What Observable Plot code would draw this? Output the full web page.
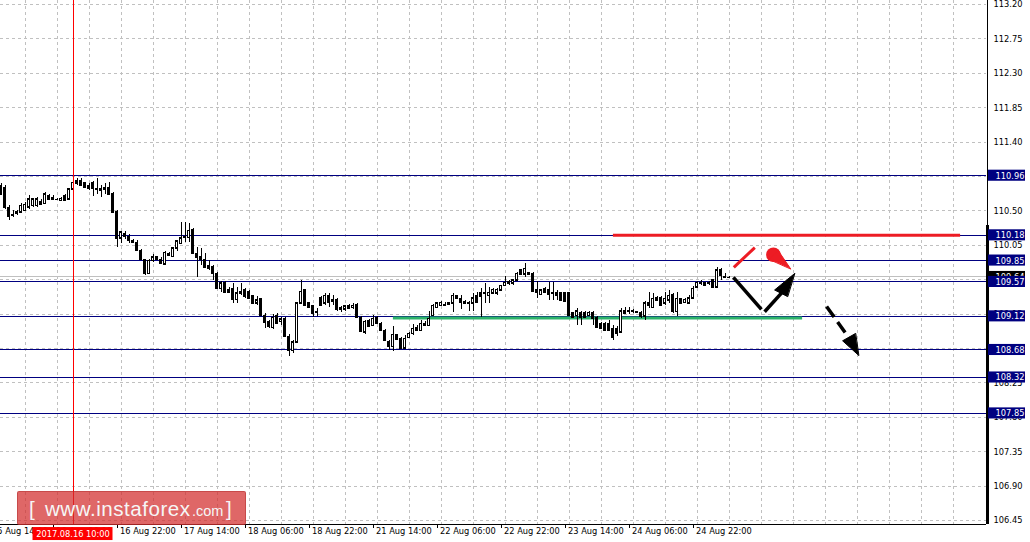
<!DOCTYPE html>
<html><head><meta charset="utf-8">
<script src="https://cdn.jsdelivr.net/npm/d3@7"></script>
<script src="https://cdn.jsdelivr.net/npm/@observablehq/plot@0.6"></script>
<style>
html,body{margin:0;padding:0;background:#fff;}
#wrap{position:relative;width:1030px;height:542px;overflow:hidden;}
#logo{position:absolute;left:17px;top:491px;width:227px;height:32px;background:rgba(211,45,45,0.72);border:1px solid rgba(170,40,40,0.45);border-radius:2px;}
.lg{position:absolute;color:#f6f6f6;font-family:"Liberation Sans",Arial,sans-serif;line-height:1;white-space:pre;}
</style></head><body>
<div id="wrap"><div id="chart"></div>
<div id="logo"></div>
<span class="lg" style="left:29px;top:498.5px;font-size:20.6px;">[</span>
<span class="lg" style="left:45px;top:498.5px;font-size:20.6px;letter-spacing:0.5px;">www.instaforex</span>
<span class="lg" style="left:192px;top:503.5px;font-size:14.5px;">.com</span>
<span class="lg" style="left:226px;top:498.5px;font-size:20.6px;">]</span>
</div>
<script>
// ---- H1 candles (bar 0 = leftmost visible bar) ----
const opens = [
110.82,110.80,110.54,110.45,110.46,110.48,110.50,110.55,110.57,110.57,
110.62,110.59,110.69,110.67,110.65,110.63,110.70,110.65,110.78,110.86,
110.89,110.86,110.83,110.86,110.79,110.78,110.80,110.80,110.72,110.48,
110.14,110.20,110.16,110.10,110.08,109.98,109.86,109.68,109.85,109.89,
109.86,109.80,109.94,109.90,110.01,110.07,110.16,110.15,110.25,109.94,
109.89,109.86,109.78,109.77,109.68,109.48,109.56,109.47,109.48,109.34,
109.44,109.46,109.44,109.38,109.29,109.35,109.13,109.04,108.97,109.13,
109.05,109.09,108.85,108.67,108.78,109.29,109.46,109.29,109.25,109.18,
109.36,109.29,109.38,109.33,109.34,109.23,109.21,109.25,109.23,109.27,
109.10,108.91,109.06,109.00,109.10,109.02,108.93,108.79,108.72,108.87,
108.83,108.70,108.84,108.89,108.97,108.93,109.02,109.00,109.13,109.23,
109.26,109.27,109.29,109.29,109.38,109.35,109.31,109.30,109.29,109.38,
109.42,109.42,109.39,109.42,109.42,109.46,109.52,109.57,109.55,109.59,
109.72,109.67,109.69,109.68,109.47,109.40,109.48,109.47,109.43,109.43,
109.42,109.42,109.42,109.16,109.13,109.17,109.16,109.13,109.16,109.10,
109.02,109.02,109.02,108.96,108.95,108.91,109.16,109.19,109.18,109.18,
109.16,109.12,109.29,109.23,109.33,109.36,109.29,109.33,109.40,109.18,
109.35,109.30,109.29,109.36,109.50,109.56,109.53,109.56,109.59,109.50,
109.72,109.64,109.63];
const highs = [
110.86,110.83,110.57,110.50,110.50,110.59,110.61,110.70,110.66,110.67,
110.65,110.74,110.71,110.70,110.66,110.67,110.71,110.79,110.88,110.93,
110.93,110.87,110.86,110.88,110.93,110.83,110.86,110.87,110.74,110.50,
110.23,110.23,110.19,110.12,110.11,109.99,109.87,109.86,109.93,109.90,
109.89,109.97,109.95,110.02,110.11,110.35,110.35,110.33,110.27,110.02,
110.01,109.94,109.85,109.78,109.69,109.57,109.57,109.50,109.55,109.50,
109.55,109.48,109.46,109.39,109.38,109.36,109.16,109.06,109.14,109.16,
109.10,109.10,108.88,108.80,109.30,109.59,109.47,109.30,109.26,109.22,
109.38,109.42,109.42,109.39,109.35,109.25,109.26,109.27,109.29,109.29,
109.12,109.06,109.08,109.13,109.12,109.04,108.95,108.80,108.99,108.88,
108.84,108.87,108.91,109.01,109.00,109.06,109.05,109.19,109.27,109.30,
109.31,109.30,109.30,109.42,109.39,109.39,109.33,109.31,109.42,109.43,
109.48,109.55,109.50,109.48,109.48,109.53,109.64,109.59,109.60,109.69,
109.73,109.81,109.70,109.69,109.57,109.47,109.50,109.56,109.56,109.46,
109.43,109.43,109.43,109.17,109.22,109.19,109.18,109.18,109.19,109.12,
109.04,109.04,109.06,109.00,108.99,109.22,109.23,109.23,109.21,109.19,
109.19,109.31,109.43,109.42,109.38,109.38,109.43,109.46,109.42,109.43,
109.36,109.35,109.39,109.51,109.57,109.59,109.56,109.57,109.60,109.76,
109.74,109.68,109.64];
const lows = [
110.70,110.52,110.37,110.41,110.44,110.46,110.49,110.52,110.55,110.55,
110.57,110.58,110.63,110.63,110.63,110.62,110.62,110.63,110.76,110.83,
110.82,110.79,110.76,110.69,110.72,110.67,110.72,110.71,110.46,110.02,
110.07,110.12,110.07,110.07,109.97,109.85,109.65,109.67,109.82,109.85,
109.80,109.78,109.90,109.89,109.97,110.06,110.08,110.08,109.93,109.63,
109.78,109.74,109.72,109.59,109.47,109.43,109.42,109.42,109.29,109.29,
109.39,109.36,109.35,109.27,109.26,109.12,108.96,108.96,108.95,109.01,
109.00,108.84,108.59,108.63,108.76,109.27,109.25,109.22,109.10,109.12,
109.25,109.26,109.23,109.26,109.19,109.17,109.19,109.21,109.21,109.09,
108.91,108.88,108.97,108.99,109.01,108.92,108.79,108.67,108.66,108.80,
108.69,108.69,108.83,108.87,108.92,108.92,108.99,108.99,109.12,109.22,
109.25,109.25,109.26,109.17,109.34,109.21,109.27,109.19,109.19,109.29,
109.10,109.29,109.29,109.40,109.39,109.44,109.51,109.53,109.53,109.57,
109.65,109.63,109.65,109.43,109.36,109.39,109.42,109.33,109.33,109.33,
109.31,109.30,109.12,109.09,109.00,109.00,109.09,109.12,109.00,108.96,
108.95,108.92,108.92,108.80,108.85,108.89,109.14,109.14,109.16,109.16,
109.09,109.06,109.22,109.23,109.31,109.25,109.26,109.29,109.16,109.12,
109.27,109.29,109.27,109.35,109.48,109.52,109.52,109.53,109.48,109.48,
109.59,109.61,109.61];
const closes = [
110.72,110.54,110.42,110.44,110.48,110.57,110.58,110.65,110.65,110.65,
110.58,110.72,110.65,110.65,110.65,110.66,110.63,110.78,110.87,110.89,
110.83,110.80,110.79,110.79,110.78,110.76,110.78,110.72,110.48,110.14,
110.22,110.16,110.11,110.08,109.98,109.86,109.68,109.85,109.89,109.86,
109.81,109.95,109.91,110.01,110.10,110.14,110.15,110.24,109.94,109.89,
109.86,109.76,109.74,109.68,109.48,109.55,109.43,109.43,109.34,109.42,
109.42,109.38,109.36,109.29,109.33,109.13,109.04,108.99,109.10,109.02,
109.08,108.85,108.67,108.78,109.29,109.44,109.26,109.23,109.16,109.17,
109.26,109.39,109.30,109.31,109.21,109.21,109.25,109.22,109.26,109.10,
108.92,109.05,108.99,109.09,109.02,108.93,108.80,108.72,108.88,108.82,
108.70,108.83,108.89,108.96,108.93,109.02,109.00,109.09,109.26,109.29,
109.30,109.26,109.27,109.39,109.35,109.30,109.29,109.29,109.36,109.30,
109.38,109.43,109.43,109.47,109.47,109.52,109.56,109.55,109.59,109.68,
109.67,109.74,109.67,109.44,109.43,109.46,109.43,109.40,109.42,109.39,
109.33,109.31,109.13,109.10,109.19,109.10,109.10,109.17,109.09,108.97,
108.96,108.93,108.93,108.84,108.89,109.19,109.19,109.18,109.19,109.17,
109.12,109.29,109.26,109.35,109.36,109.26,109.35,109.39,109.18,109.35,
109.29,109.34,109.36,109.48,109.56,109.55,109.55,109.55,109.50,109.72,
109.65,109.63,109.63];

// ---- price axis ----
const gridPrices = [106.45,106.90,107.35,107.80,108.25,108.70,109.15,109.60,110.05,110.50,110.95,111.40,111.85,112.30,112.75,113.20];
const gridLabels = gridPrices.map(p => p.toFixed(2));
const levelPrices = [110.96,110.18,109.85,109.57,109.12,108.68,108.32,107.85];
const levelLabels = ["110.96","110.18","109.85","109.57","109.12","108.68","108.32","107.85"];
const bidPrice = 109.635;
const bidLabel = "109.64";

// ---- time axis ----
const timeTickBars = [-3,13,29,45,61,77,93,109,125,141,157,173];
const timeTickLabels = ["15 Aug 14:00","16 Aug 06:00","16 Aug 22:00","17 Aug 14:00","18 Aug 06:00","18 Aug 22:00","21 Aug 14:00","22 Aug 06:00","22 Aug 22:00","23 Aug 14:00","24 Aug 06:00","24 Aug 22:00"];
const gridBars = [6,14,22,30,38,46,54,62,70,78,86,94,102,110,118,126,134,142,150,158,166,174,182,190,198,206,214,222,230,238];
const markerBar = 18;
const markerLabel = "2017.08.16 10:00";

// ---- drawn annotations (bar index, price) ----
const resistance = {from: 153.1, to: 239.9, price: 110.18};
const support = {from: 98.1, to: 200.4, price: 109.10};
const redStroke = [[183.2, 109.76], [188.45, 110.02]];
const blackStrokes = [
  [[183.1, 109.63], [190.1, 109.21]],
  [[190.9, 109.18], [195.9, 109.47]]
];
const dashedStroke = [[206.4, 109.25], [212.1, 108.83]];
const arrowHeads = [
  [[198.4, 109.68], [193.4, 109.465], [196.6, 109.38]],
  [[214.4, 108.61], [210.4, 108.80], [213.6, 108.895]]
];
const dropHead = {x: 193.1, y: 109.926};
const dropTail = [[192.1, 109.868], [194.25, 109.985], [197.4, 109.742]];

// ---- build ----
const candles = opens.map((o, i) => ({i, o, h: highs[i], l: lows[i], c: closes[i]}));
const xDomain = [-0.125, 246.375];
const yDomain = [106.3968, 113.2523];
const xR = xDomain[1];
const yB = yDomain[0];
const boxH = 0.0725;
const bx1 = 246.875, bx2 = 256.125;
const RED = "#ed1c24", NAVY = "#000080";

const grid = gridPrices.map((p, j) => ({p, t: gridLabels[j]}));
const levels = levelPrices.map((p, j) => ({p, t: levelLabels[j]}));
const ticks = timeTickBars.map((b, j) => ({b, t: timeTickLabels[j]}));
const headRows = [];
arrowHeads.forEach((h, j) => h.forEach(([x, y]) => headRows.push({z: j, x, y})));
const tailRows = dropTail.map(([x, y]) => ({x, y}));
const links = blackStrokes.map(([[a, b], [c, d]]) => ({x1: a, y1: b, x2: c, y2: d}));

const chart = Plot.plot({
  width: 1030, height: 542,
  marginLeft: 0, marginRight: 44, marginTop: 0, marginBottom: 18,
  x: {domain: xDomain, axis: null},
  y: {domain: yDomain, axis: null},
  style: {background: "#fff", fontFamily: "'DejaVu Sans Condensed', 'Liberation Sans', Arial, sans-serif", fontSize: "9.2px", overflow: "visible"},
  marks: [
    Plot.ruleY(gridPrices, {stroke: "#c0c0c0", strokeDasharray: "3,3", shapeRendering: "crispEdges"}),
    Plot.ruleX(gridBars, {stroke: "#c0c0c0", strokeDasharray: "3,3", shapeRendering: "crispEdges"}),
    Plot.ruleY([bidPrice], {stroke: "#c0c0c0", shapeRendering: "crispEdges"}),
    Plot.ruleY(levelPrices, {stroke: NAVY, shapeRendering: "crispEdges"}),
    Plot.ruleY([support], {y: d => d.price, x1: d => d.from, x2: d => d.to, stroke: "#2db36a", strokeWidth: 3}),
    Plot.ruleY([resistance], {y: d => d.price, x1: d => d.from, x2: d => d.to, stroke: RED, strokeWidth: 3}),
    // candles
    Plot.ruleX(candles, {x: "i", y1: "l", y2: "h", stroke: "#000", shapeRendering: "crispEdges"}),
    Plot.rect(candles.filter(d => d.o !== d.c), {x1: d => d.i - 0.25, x2: d => d.i + 0.25, y1: "o", y2: "c",
      fill: d => d.c > d.o ? "#fff" : "#000", stroke: "#000", shapeRendering: "crispEdges"}),
    Plot.ruleY(candles, {y: "o", x1: d => d.i - 0.375, x2: d => d.i + 0.375, stroke: "#000", shapeRendering: "crispEdges"}),
    Plot.ruleY(candles, {y: "c", x1: d => d.i - 0.375, x2: d => d.i + 0.375, stroke: "#000", shapeRendering: "crispEdges"}),
    // annotations
    Plot.link([redStroke], {x1: d => d[0][0], y1: d => d[0][1], x2: d => d[1][0], y2: d => d[1][1], stroke: RED, strokeWidth: 3}),
    Plot.dot([dropHead], {x: "x", y: "y", r: 7.3, fill: RED}),
    Plot.line(tailRows, {x: "x", y: "y", fill: RED, stroke: RED, strokeWidth: 1, curve: "linear-closed"}),
    Plot.link(links, {x1: "x1", y1: "y1", x2: "x2", y2: "y2", stroke: "#000", strokeWidth: 3.5}),
    Plot.link([dashedStroke], {x1: d => d[0][0], y1: d => d[0][1], x2: d => d[1][0], y2: d => d[1][1], stroke: "#000", strokeWidth: 3.5, strokeDasharray: "13,6"}),
    Plot.line(headRows, {x: "x", y: "y", z: "z", fill: "#000", stroke: "#000", strokeWidth: 1, curve: "linear-closed"}),
    // axes frame
    Plot.ruleY([yB], {stroke: "#000", shapeRendering: "crispEdges", dy: -0.5}),
    Plot.ruleX(timeTickBars, {y1: yB, y2: yB - 0.05, stroke: "#000", shapeRendering: "crispEdges"}),
    Plot.text(ticks, {x: "b", text: "t", frameAnchor: "bottom", dy: 9.5, dx: 3, textAnchor: "start", fill: "#000"}),
    Plot.ruleX([xR], {stroke: "#000", shapeRendering: "crispEdges", dx: 0.5}),
    Plot.ruleX([xR], {y1: 110.31, y2: yB, stroke: "#000", strokeWidth: 3, shapeRendering: "crispEdges", dx: 0.5}),
    Plot.text(grid, {x: () => xR, y: "p", text: "t", dx: 7, textAnchor: "start", fill: "#000"}),
    // price boxes
    Plot.rect([bidPrice], {x1: () => bx1, x2: () => bx2, y1: d => d - boxH, y2: d => d + boxH, fill: "#000"}),
    Plot.text([bidPrice], {x: () => xR, y: d => d, text: () => bidLabel, dx: 9, textAnchor: "start", fill: "#fff"}),
    Plot.rect(levels, {x1: () => bx1, x2: () => bx2, y1: d => d.p - boxH, y2: d => d.p + boxH, fill: NAVY}),
    Plot.text(levels, {x: () => xR, y: "p", text: "t", dx: 9, textAnchor: "start", fill: "#fff"}),
    // vertical time marker and its label
    Plot.ruleX([{b: markerBar}], {x: "b", stroke: "red", strokeWidth: 1, shapeRendering: "crispEdges"}),
    Plot.rect([markerBar], {x1: d => d - 10, x2: d => d + 10, y1: () => 106.187, y2: () => 106.357, fill: "red"}),
    Plot.text([markerBar], {x: d => d, y: () => 106.272, text: () => markerLabel, fill: "#fff"})
  ]
});
document.getElementById("chart").appendChild(chart);
</script>
</body></html>
